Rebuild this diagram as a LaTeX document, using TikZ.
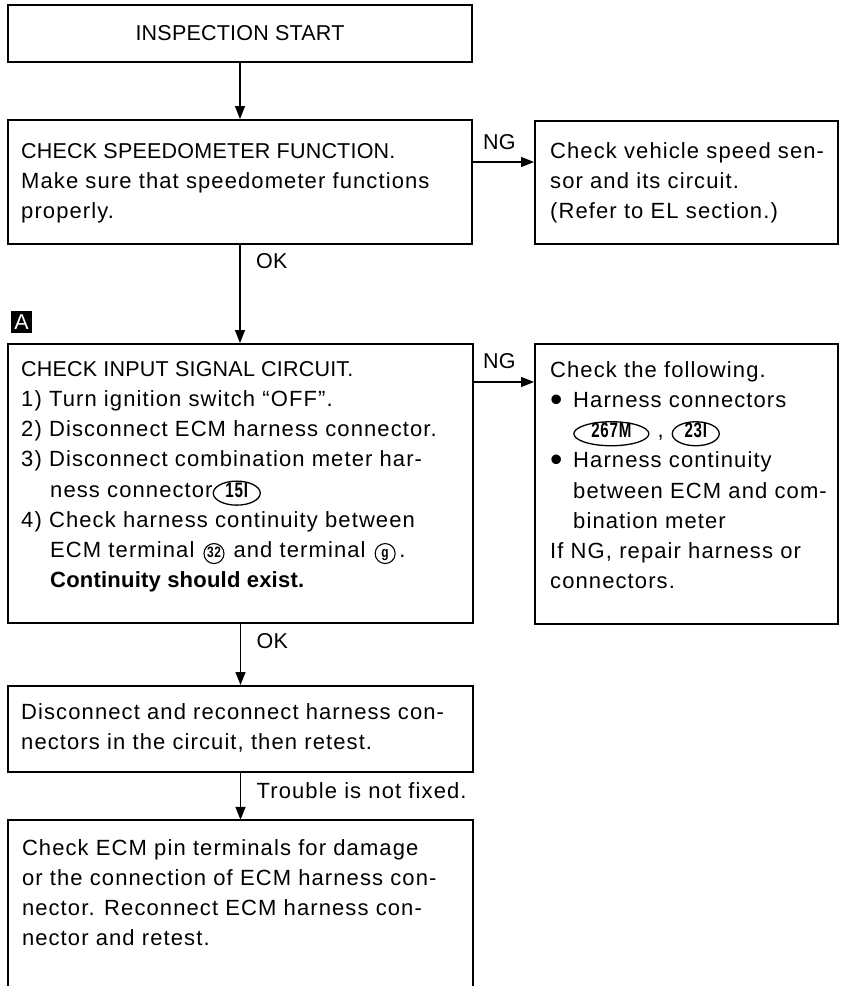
\documentclass[tikz,border=0pt]{standalone}
\usepackage{fontspec}
\usepackage{graphicx}
\setmainfont{Liberation Sans}[LetterSpace=5]
\newfontfamily\capfont{Liberation Sans}[LetterSpace=1]
\usetikzlibrary{shapes.geometric,arrows.meta}

% text sizes
\newcommand\bodytext{\fontsize{22}{30.2}\selectfont}
\newcommand\capstext{\capfont\fontsize{21.5}{30.2}\selectfont}
% harness connector number in an oval
\newcommand\conn[2]{\tikz[baseline=(cn.base)]\node(cn)[draw,ellipse,line width=1.3pt,inner sep=0pt,text height=8pt,text depth=0pt,minimum width=#1pt,minimum height=24pt]{\fontsize{21}{21}\selectfont\bfseries\scalebox{0.72}[1]{#2}};}
% terminal number in a circle
\newcommand\term[1]{\tikz[baseline=(tm.base)]\node(tm)[draw,circle,line width=1.1pt,inner sep=0pt,text height=8pt,text depth=0pt,minimum size=20pt]{\fontsize{15}{15}\selectfont\bfseries\scalebox{0.8}[1]{#1}};}
% list bullet
\newcommand\blt{\makebox[23pt][l]{\raisebox{-3.5pt}{\scalebox{1.6}{\textbullet}}}}

\begin{document}
\begin{tikzpicture}[x=1pt,y=-1pt,
  box/.style={draw,line width=2pt,inner sep=0pt},
  txt/.style={anchor=north west,inner sep=0pt,align=left,font=\bodytext},
  lbl/.style={anchor=west,inner sep=0pt,font=\capstext},
  lbltxt/.style={anchor=west,inner sep=0pt,font=\bodytext},
  arr/.style={line width=1.3pt,-{Triangle[length=13pt,width=10pt]}}]
\fill[white] (0,0) rectangle (845,986);
\useasboundingbox (0,0) rectangle (845,986);

% boxes
\node[box,minimum width=464pt,minimum height=57pt,font=\capstext] (b1) at (240,33.5) {INSPECTION START};
\node[box,minimum width=464pt,minimum height=124pt] (b2) at (240,182) {};
\node[box,minimum width=303pt,minimum height=123pt] (b3) at (686.5,182.5) {};
\node[box,minimum width=465pt,minimum height=279pt] (b4) at (240.5,483.5) {};
\node[box,minimum width=303pt,minimum height=280pt] (b5) at (686.5,484) {};
\node[box,minimum width=465pt,minimum height=86pt] (b6) at (240.5,729) {};
\node[inner sep=0pt,minimum width=465pt,minimum height=170pt] (b7) at (240.5,905) {};
\draw[line width=2pt] (b7.south west) -- (b7.north west) -- (b7.north east) -- (b7.south east);

% section marker
\node[fill=black,text=white,inner sep=0pt,minimum width=21pt,minimum height=22pt,font=\capstext] (mA) at (21.5,322) {A};

% box texts
\node[txt] (t2) at ([xshift=14pt,yshift=-18pt]b2.north west) {\strut{\capstext CHECK SPEEDOMETER FUNCTION.}\\
Make sure that speedometer functions\\
properly.};

\node[txt] (t3) at ([xshift=16pt,yshift=-17pt]b3.north west) {\strut Check vehicle speed sen-\\
sor and its circuit.\\
(Refer to EL section.)};

\node[txt] (t4) at ([xshift=14pt,yshift=-12pt]b4.north west) {\strut{\capstext CHECK INPUT SIGNAL CIRCUIT.}\\
1) Turn ignition switch “OFF”.\\
2) Disconnect ECM harness connector.\\
3) Disconnect combination meter har-\\
\hspace*{29pt}ness connector\conn{47}{15I}\\
4) Check harness continuity between\\
\hspace*{29pt}ECM terminal\hspace{9pt}\term{32}\hspace{9pt}and terminal\hspace{9pt}\term{g}\,.\\
\hspace*{29pt}{\capfont\fontsize{22}{30.2}\selectfont\bfseries Continuity should exist.}};

\node[txt] (t5) at ([xshift=16pt,yshift=-13pt]b5.north west) {\strut Check the following.\\
\blt Harness connectors\\
\hspace*{23pt}\conn{75}{267M}\hspace{8pt},\hspace{8pt}\conn{47}{23I}\\
\blt Harness continuity\\
\hspace*{23pt}between ECM and com-\\
\hspace*{23pt}bination meter\\
If NG, repair harness or\\
connectors.};

\node[txt] (t6) at ([xshift=14pt,yshift=-13pt]b6.north west) {\strut Disconnect and reconnect harness con-\\
nectors in the circuit, then retest.};

\node[txt] (t7) at ([xshift=14pt,yshift=-14pt]b7.north west) {\strut Check ECM pin terminals for damage\\
or the connection of ECM harness con-\\
nector. Reconnect ECM harness con-\\
nector and retest.};

% connectors
\draw[arr] (b1.south) -- (b2.north);

\coordinate (ng1) at ([yshift=-43pt]b2.north east);
\draw[arr] (ng1) -- (ng1 -| b3.west);
\node[lbl] (ng1l) at ([xshift=10pt,yshift=20pt]ng1) {NG};

\draw[arr] (b2.south) -- (b2.south |- b4.north);
\node[lbl] (ok1) at ([xshift=16pt,yshift=-16pt]b2.south) {OK};

\coordinate (ng2) at ([yshift=-39pt]b4.north east);
\draw[arr] (ng2) -- (ng2 -| b5.west);
\node[lbl] (ng2l) at ([xshift=9pt,yshift=21pt]ng2) {NG};

\draw[arr] (b4.south) -- (b4.south |- b6.north);
\node[lbl] (ok2) at ([xshift=16pt,yshift=-17pt]b4.south) {OK};

\draw[arr] (b6.south) -- (b6.south |- b7.north);
\node[lbltxt] (tr) at ([xshift=16pt,yshift=-18pt]b6.south) {Trouble is not fixed.};
\end{tikzpicture}
\end{document}
